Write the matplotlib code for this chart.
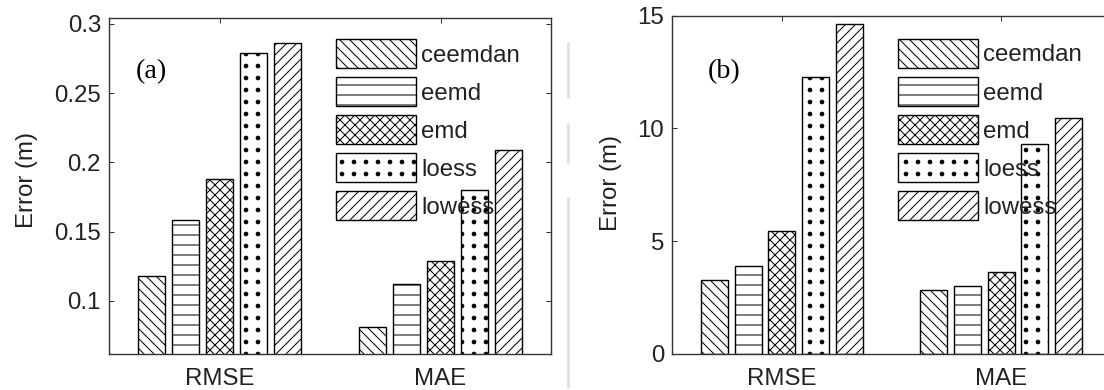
import matplotlib
matplotlib.use("Agg")
import matplotlib.pyplot as plt
import matplotlib.hatch as mhatch
from matplotlib.lines import Line2D
import numpy as np

# ---- data -------------------------------------------------------------
metrics = ["RMSE", "MAE"]
methods = ["ceemdan", "eemd", "emd", "loess", "lowess"]
hatches = ["\\\\", "-", "xx", ".", "//"]

# panel (a): errors for first series (m)
err_a = {
    "ceemdan": [0.118, 0.081],
    "eemd":    [0.158, 0.112],
    "emd":     [0.188, 0.129],
    "loess":   [0.279, 0.180],
    "lowess":  [0.286, 0.209],
}
# panel (b): errors for second series (m)
err_b = {
    "ceemdan": [3.29, 2.85],
    "eemd":    [3.92, 3.03],
    "emd":     [5.45, 3.63],
    "loess":   [12.30, 9.29],
    "lowess":  [14.64, 10.46],
}

yticks_a = [0.1, 0.15, 0.2, 0.25, 0.3]
ylabels_a = ["0.1", "0.15", "0.2", "0.25", "0.3"]
yticks_b = [0, 5, 10, 15]
ylabels_b = ["0", "5", "10", "15"]

# ---- style ------------------------------------------------------------
DPI = 60
W, H = 1104, 390
PX = 72.0 / DPI          # points per pixel


def pt(px):
    return px * PX


class GridDots(mhatch.Circles):
    """'.' hatch drawn as a square grid of filled dots (no row staggering)."""
    size = 0.15
    filled = True

    def __init__(self, hatch, density):
        self.num_rows = int(hatch.count('.') * density * 5 // 6)
        super().__init__(hatch, density)
        if self.num_rows:
            self.num_shapes = self.num_rows ** 2
            self.num_vertices = self.num_shapes * len(self.shape_vertices)

    def set_vertices_and_codes(self, vertices, codes):
        step = 1.0 / self.num_rows
        shape = self.shape_vertices * step * self.size
        nv = len(shape)
        cur = 0
        for r in range(self.num_rows):
            for c in range(self.num_rows):
                vertices[cur:cur + nv] = shape + ((c + 0.5) * step, (r + 0.5) * step)
                codes[cur:cur + nv] = self.shape_codes
                cur += nv


try:
    _i = mhatch._hatch_types.index(mhatch.SmallFilledCircles)
    mhatch._hatch_types[_i] = GridDots
except (AttributeError, ValueError):
    mhatch.SmallFilledCircles.size = 0.16

plt.rcParams["font.family"] = ["Liberation Sans", "DejaVu Sans"]
plt.rcParams["hatch.linewidth"] = pt(1.0)
TXT = "#222222"
FS = pt(24)

fig = plt.figure(figsize=(W / DPI, H / DPI), dpi=DPI)
fig.patch.set_facecolor("white")


def px_axes(x0, y0, x1, y1):
    """Axes from pixel box (left, top, right, bottom)."""
    return fig.add_axes([x0 / W, 1 - y1 / H, (x1 - x0) / W, (y1 - y0) / H])


ax_a = px_axes(109, 18.3, 551, 354.3)
ax_b = px_axes(672.3, 15.7, 1110.8, 354)

nb = len(methods)
group_w = min(0.8, nb / (nb + 1.5))
pitch = group_w / nb
bar_w = 0.8 * pitch
xg = np.arange(1, len(metrics) + 1)


def draw_panel(ax, data, ylim, yticks, ytlabels, tag, tag_xy, leg_xy, ylab_x, ylab_y):
    for i, m in enumerate(methods):
        ax.bar(xg + (i - (nb - 1) / 2) * pitch, data[m], width=bar_w,
               bottom=0, color="white", edgecolor="black", linewidth=pt(1.4),
               hatch=hatches[i], label=m, zorder=2)
    ax.set_xlim(0.5, 2.5)
    ax.set_ylim(*ylim)
    ax.set_xticks(xg)
    ax.set_xticklabels(metrics)
    ax.set_yticks(yticks)
    ax.set_yticklabels(ytlabels)
    ax.tick_params(direction="in", length=pt(5), width=pt(1.0), top=True, right=True,
                   labelsize=FS, labelcolor=TXT, color="#333333", pad=pt(8))
    ax.tick_params(axis="x", pad=pt(14))
    for s in ax.spines.values():
        s.set_linewidth(pt(1.4))
        s.set_color("#333333")
    ax.set_ylabel("Error (m)", fontsize=FS, color=TXT, va="center")
    ax.yaxis.set_label_coords(ylab_x, ylab_y)
    ax.text(tag_xy[0], tag_xy[1], tag, transform=ax.transAxes,
            fontsize=pt(28), family="Liberation Serif", color="black",
            ha="center", va="center")
    leg = ax.legend(loc="upper left", bbox_to_anchor=leg_xy, frameon=False,
                    fontsize=FS, handlelength=3.33, handleheight=1.48,
                    labelspacing=0.38, handletextpad=0.22, borderpad=0,
                    borderaxespad=0)
    for t in leg.get_texts():
        t.set_color(TXT)
    leg.set_zorder(5)


draw_panel(ax_a, err_a, (0.0613, 0.304), yticks_a, ylabels_a,
           "(a)", (0.095, 0.84), (0.5136, 0.938), -0.1855, 0.519)
draw_panel(ax_b, err_b, (0, 15), yticks_b, ylabels_b,
           "(b)", (0.119, 0.834), (0.5147, 0.931), -0.14, 0.505)

# faint separator between the two panels
for y0, y1 in [(42, 98), (123, 163), (197, 388)]:
    fig.add_artist(Line2D([568 / W, 568 / W], [1 - y0 / H, 1 - y1 / H],
                          transform=fig.transFigure, color="#e2e2e2",
                          linewidth=pt(3), solid_capstyle="butt"))

fig.savefig("out.png", dpi=DPI, facecolor="white")
